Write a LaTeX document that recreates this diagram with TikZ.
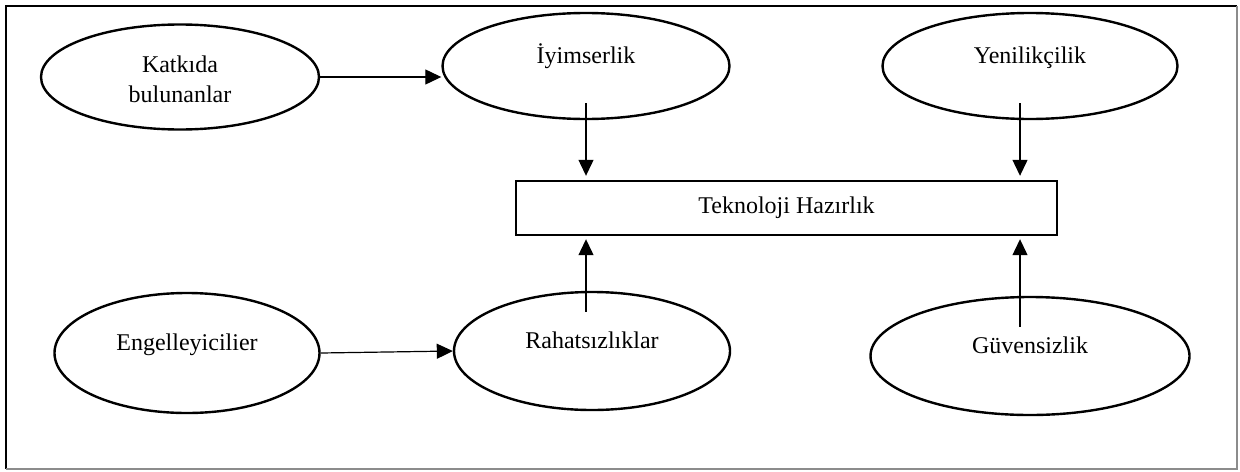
\documentclass[tikz,border=0pt]{standalone}
\usepackage{fontspec}
\setmainfont{Liberation Serif}
\usetikzlibrary{arrows.meta,calc,shapes.geometric}
\tikzset{
  elips/.style={
    ellipse,
    draw=black,
    line width=1.2pt,
    inner sep=0pt,
    align=center
  },
  teksatir/.style={
    text height=8pt,
    text depth=11pt
  },
  kutu/.style={
    rectangle,
    draw=black,
    line width=1.2pt,
    inner sep=0pt,
    minimum width=270.5pt,
    minimum height=27pt
  },
  ok/.style={
    -{Triangle[length=8pt,width=7.5pt]},
    line width=0.6pt
  }
}
\begin{document}
\begin{tikzpicture}[x=0.5pt,y=-0.5pt,font=\fontsize{12}{15}\selectfont]
\useasboundingbox (0,0) rectangle (1240,471);
% cerceve
\draw[line width=1.3pt] (1237,6) -- (6,6) -- (6,469);
\draw[black!45, line width=0.8pt] (6,469) -- (1237,469) -- (1237,6);
% dugumler
\node[elips, minimum width=139pt, minimum height=52.5pt] (katkida) at (180,77) {\strut Katkıda\\bulunanlar};
\node[elips, teksatir, minimum width=143.5pt, minimum height=53pt] (iyimser) at (586,66) {İyimserlik};
\node[elips, teksatir, minimum width=147.5pt, minimum height=53pt] (yenilik) at (1030,66) {Yenilikçilik};
\node[kutu] (tekno) at (786.5,208) {Teknoloji Hazırlık};
\node[elips, teksatir, minimum width=132.5pt, minimum height=60pt] (engel) at (187,353) {Engelleyicilier};
\node[elips, teksatir, minimum width=138pt, minimum height=59pt] (rahat) at (592,351) {Rahatsızlıklar};
\node[elips, teksatir, minimum width=159.5pt, minimum height=59pt] (guven) at (1030,356) {Güvensizlik};
% oklar
\draw[ok] (katkida.east) -- (katkida.east -| iyimser.west);
\draw[ok] (engel.east) -- (rahat.west);
\draw[ok, shorten >=2pt] ($(iyimser.south)+(0,-17)$) -- (iyimser.south |- tekno.north);
\draw[ok, shorten >=2pt] ($(yenilik.south)+(-10,-17)$) -- ($(yenilik.south |- tekno.north)+(-10,0)$);
\draw[ok, shorten >=1.5pt] ($(rahat.north)+(-6,21)$) -- ($(rahat.north |- tekno.south)+(-6,0)$);
\draw[ok, shorten >=1.5pt] ($(guven.north)+(-10,31)$) -- ($(guven.north |- tekno.south)+(-10,0)$);
\end{tikzpicture}
\end{document}
